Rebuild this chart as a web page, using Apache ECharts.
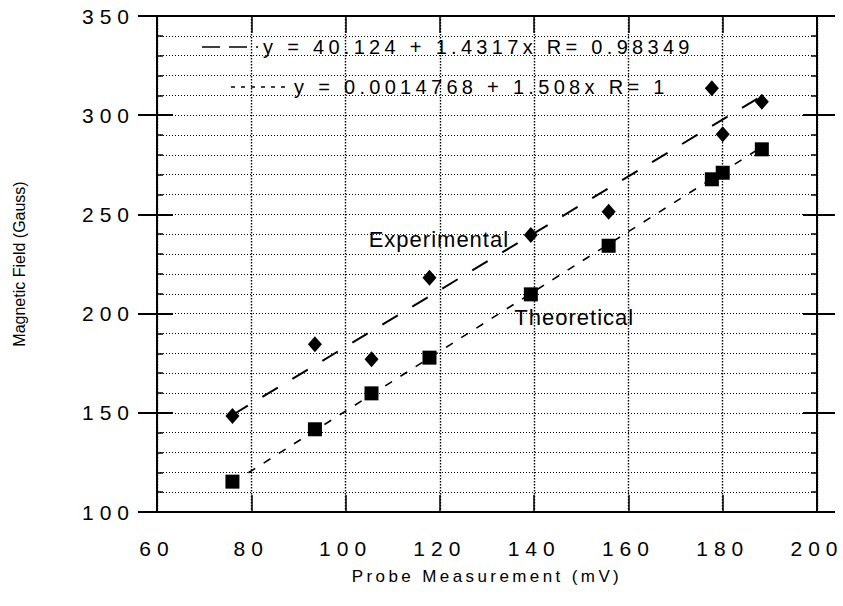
<!DOCTYPE html>
<html>
<head>
<meta charset="utf-8">
<script src="https://cdn.jsdelivr.net/npm/echarts@6/dist/echarts.min.js"></script>
<style>
  html, body { margin: 0; padding: 0; background: #fff; }
  #chart { width: 843px; height: 606px; }
  #chart text[style*="21px"] { letter-spacing: 6px; }
  #chart text[style*="20px"] { letter-spacing: 4.3px; }
  #chart text[style*="17px"] { letter-spacing: 3.4px; }
  #chart text[style*="22px"] { letter-spacing: 1px; }
</style>
</head>
<body>
<div id="chart"></div>
<script>
// ---- data ----
const probeMv = [76, 93.5, 105.5, 117.8, 139.3, 155.8, 177.7, 180, 188.3];
const experimentalGauss = [148.4, 184.5, 177, 218.1, 239.6, 251.3, 313.6, 290.4, 306.8];
const theoreticalGauss = [115.3, 141.7, 159.8, 177.8, 209.7, 234.2, 267.7, 271, 282.8];
// fitted lines (end points as drawn)
const expFitX = [76, 188.3];
const expFitY = [148.9, 309.7];
const theoFitX = [79.4, 188.3];
const theoFitY = [119.8, 284.0];
const expFitName = 'y = 40.124 + 1.4317x R= 0.98349';
const theoFitName = 'y = 0.0014768 + 1.508x R= 1';
const xTicks = { min: 60, max: 200, step: 20 };
const yTicks = { min: 100, max: 350, step: 50 };
const annotationNames = ['Experimental', 'Theoretical'];
const annotationX = [104.8, 135.7];
const annotationY = [237.1, 197.8];

const pairs = (xs, ys) => xs.map((x, i) => [x, ys[i]]);
const FONT = '"Liberation Sans", Arial, Helvetica, sans-serif';
const black = '#000';
const dotted = { color: black, width: 1, type: [1, 2] };
const dottedV = { color: black, width: 1.4, type: [1.4, 1.6] };

const chart = echarts.init(document.getElementById('chart'), null, { renderer: 'svg' });

const baseY = (extra) => Object.assign({
  type: 'value', min: yTicks.min, max: yTicks.max, interval: yTicks.step,
  axisLine: { show: true, lineStyle: { color: black, width: 2 } },
  axisLabel: { show: false },
  splitLine: { show: false },
  axisTick: { show: false }
}, extra);

// legend drawn as graphic (sample line + equation text)
const legendRows = [
  { name: expFitName, y: 47, x0: 202, x1: 258, textX: 263, dash: [18, 9], width: 1.6 },
  { name: theoFitName, y: 87, x0: 231, x1: 290, textX: 294, dash: [4, 6], width: 1.4 }
];
const legendGraphics = [];
legendRows.forEach(r => {
  legendGraphics.push({
    type: 'line', silent: true, z: 10,
    shape: { x1: r.x0, y1: r.y, x2: r.x1, y2: r.y },
    style: { stroke: black, lineWidth: r.width, lineDash: r.dash }
  });
  legendGraphics.push({
    type: 'text', silent: true, z: 10, x: r.textX, y: r.y,
    style: { text: r.name, fontSize: 20, fontFamily: FONT, fill: black,
             textAlign: 'left', textVerticalAlign: 'middle' }
  });
});

chart.setOption({
  animation: false,
  backgroundColor: '#fff',
  grid: { left: 157, right: 26, top: 16, bottom: 94, containLabel: false },
  graphic: legendGraphics,
  xAxis: [
    {
      type: 'value', position: 'bottom', min: xTicks.min, max: xTicks.max, interval: xTicks.step,
      axisLine: { show: true, lineStyle: { color: black, width: 2 } },
      axisTick: { show: true, inside: true, length: 17, lineStyle: { color: black, width: 1.5 } },
      axisLabel: { show: true, margin: 26, fontSize: 21, fontFamily: FONT, color: black },
      splitLine: { show: true, lineStyle: dottedV },
      name: 'Probe Measurement (mV)', nameLocation: 'middle', nameGap: 56,
      nameTextStyle: { fontSize: 17, fontFamily: FONT, color: black }
    },
    {
      type: 'value', position: 'top', min: xTicks.min, max: xTicks.max, interval: xTicks.step,
      axisLine: { show: true, lineStyle: { color: black, width: 2 } },
      axisTick: { show: true, inside: true, length: 17, lineStyle: { color: black, width: 1.5 } },
      axisLabel: { show: false }, splitLine: { show: false }
    }
  ],
  yAxis: [
    baseY({
      position: 'left',
      axisTick: { show: true, inside: false, length: 19, lineStyle: { color: black, width: 2 } },
      axisLabel: { show: true, margin: 22, fontSize: 21, fontFamily: FONT, color: black },
      splitLine: { show: true, lineStyle: dotted },
      minorTick: { show: false, splitNumber: 5 },
      minorSplitLine: { show: true, lineStyle: dotted },
      name: 'Magnetic Field (Gauss)', nameLocation: 'middle', nameGap: 130, nameRotate: 90,
      nameTextStyle: { fontSize: 16, fontFamily: FONT, color: black }
    }),
    baseY({
      position: 'left',
      axisTick: { show: true, inside: true, length: 16, lineStyle: { color: black, width: 2 } },
      minorTick: { show: true, splitNumber: 5, length: 6, lineStyle: { color: black, width: 1.5 } }
    }),
    baseY({
      position: 'right',
      axisTick: { show: true, inside: false, length: 18, lineStyle: { color: black, width: 2 } }
    }),
    baseY({
      position: 'right',
      axisTick: { show: true, inside: true, length: 14, lineStyle: { color: black, width: 2 } },
      minorTick: { show: true, splitNumber: 5, length: 6, lineStyle: { color: black, width: 1.5 } }
    })
  ],
  series: [
    {
      name: expFitName, type: 'line', data: pairs(expFitX, expFitY),
      symbol: 'none', silent: true, z: 3,
      lineStyle: { color: black, width: 2, type: [18, 17] }
    },
    {
      name: theoFitName, type: 'line', data: pairs(theoFitX, theoFitY),
      symbol: 'none', silent: true, z: 3,
      lineStyle: { color: black, width: 1.6, type: [8, 10] }
    },
    {
      name: 'Experimental', type: 'scatter', data: pairs(probeMv, experimentalGauss),
      symbol: 'diamond', symbolSize: [14, 16], z: 5,
      itemStyle: { color: black, opacity: 1 }
    },
    {
      name: 'Theoretical', type: 'scatter', data: pairs(probeMv, theoreticalGauss),
      symbol: 'rect', symbolSize: 14, z: 5,
      itemStyle: { color: black, opacity: 1 }
    },
    {
      name: 'labels', type: 'scatter', silent: true, z: 6,
      symbol: 'circle', symbolSize: 1,
      itemStyle: { color: 'rgba(255,255,255,0)', opacity: 1 },
      data: annotationNames.map((n, i) => ({ name: n, value: [annotationX[i], annotationY[i]] })),
      label: { show: true, formatter: '{b}', position: 'right', distance: 0, opacity: 1,
               fontSize: 22, fontFamily: FONT, color: black }
    }
  ]
});
</script>
</body>
</html>
